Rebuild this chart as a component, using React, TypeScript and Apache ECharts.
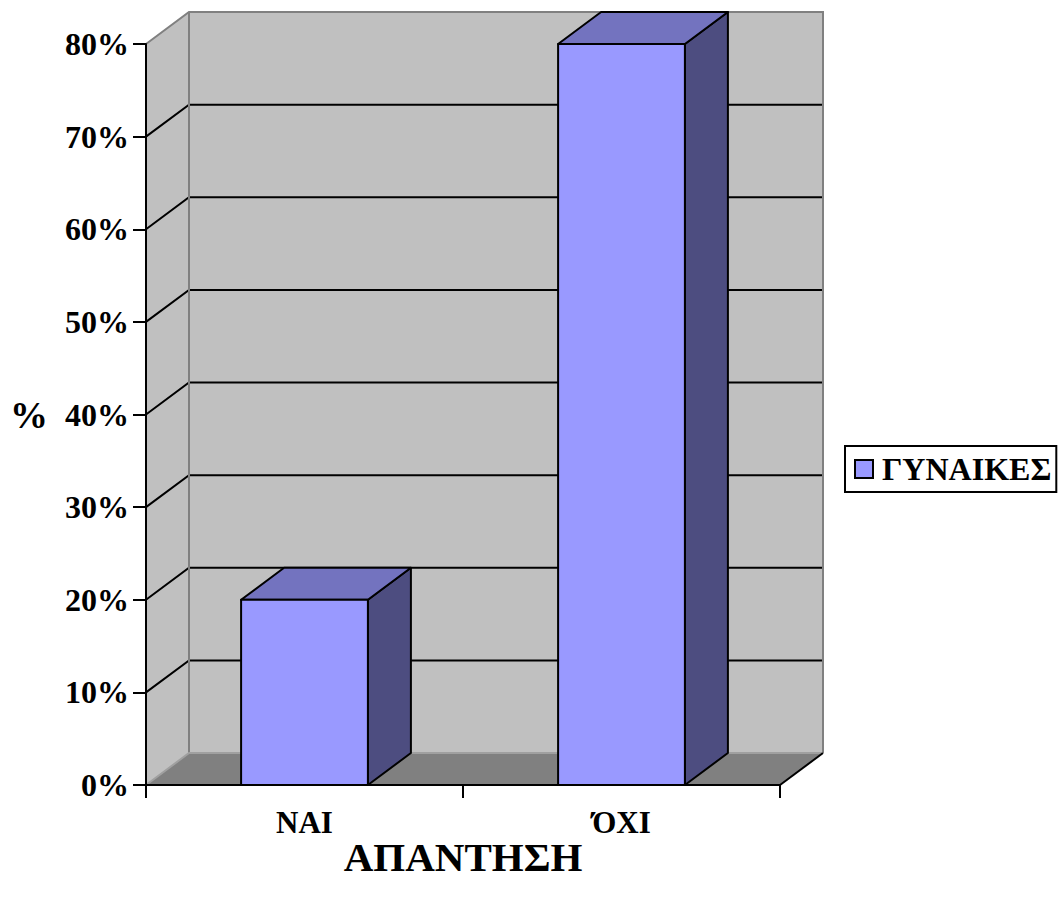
import React, { useEffect, useRef } from 'react';
import * as echarts from 'echarts';

const categories = ['ΝΑΙ', 'ΌΧΙ'];
const values = [20, 80];
const seriesName = 'ΓΥΝΑΙΚΕΣ';
const yTicks = [0, 10, 20, 30, 40, 50, 60, 70, 80];
const xTitle = 'ΑΠΑΝΤΗΣΗ';
const yTitle = '%';

const FONT = '"Liberation Serif", "Times New Roman", serif';
const DX = 43;
const DY = -32;
const BAR_FRACTION = 0.4;

export default function App() {
  const ref = useRef<HTMLDivElement>(null);

  useEffect(() => {
    if (!ref.current) return;
    const chart = echarts.init(ref.current, null, { renderer: 'svg' });
    const yMin = yTicks[0];
    const yMax = yTicks[yTicks.length - 1];

    const option: any = {
      animation: false,
      backgroundColor: '#ffffff',
      grid: { left: 146, top: 44, width: 634, height: 741, containLabel: false },
      legend: {
        data: [seriesName],
        left: 845,
        top: 446,
        orient: 'vertical',
        padding: [7, 5, 7, 9],
        borderColor: '#000',
        borderWidth: 2,
        backgroundColor: '#fff',
        itemWidth: 18,
        itemHeight: 18,
        icon: 'rect',
        selectedMode: false,
        textStyle: {
          fontFamily: FONT,
          fontWeight: 'bold',
          fontSize: 32,
          color: '#000',
          padding: [0, 0, 0, 4],
        },
      },
      xAxis: {
        type: 'category',
        data: categories,
        z: 10,
        boundaryGap: true,
        name: xTitle,
        nameLocation: 'middle',
        nameGap: 51,
        nameMoveOverlap: false,
        nameTextStyle: { fontFamily: FONT, fontWeight: 'bold', fontSize: 41, color: '#000', verticalAlign: 'top' },
        axisLine: { show: true, lineStyle: { color: '#000', width: 2 } },
        axisTick: { show: true, length: 13, lineStyle: { color: '#000', width: 2 } },
        axisLabel: { fontFamily: FONT, fontWeight: 'bold', fontSize: 31, color: '#000', margin: 22 },
        splitLine: { show: false },
      },
      yAxis: {
        type: 'value',
        min: yMin,
        max: yMax,
        interval: 10,
        z: 10,
        name: yTitle,
        nameLocation: 'middle',
        nameRotate: 0,
        nameGap: 98,
        nameMoveOverlap: false,
        nameTextStyle: { fontFamily: FONT, fontWeight: 'bold', fontSize: 38, color: '#000' },
        axisLine: { show: true, lineStyle: { color: '#000', width: 2 } },
        axisTick: { show: true, length: 13, lineStyle: { color: '#000', width: 2 } },
        axisLabel: { fontFamily: FONT, fontWeight: 'bold', fontSize: 32, color: '#000', margin: 17, formatter: '{value}%' },
        splitLine: { show: false },
      },
      series: [
        {
          type: 'custom',
          name: 'walls',
          silent: true,
          z: 1,
          data: [[0, yMin]],
          encode: { x: 0, y: 1 },
          renderItem: (params: any, api: any) => {
            const bw = api.size([1, 0])[0];
            const L = api.coord([0, yMin])[0] - bw / 2;
            const R = api.coord([categories.length - 1, yMin])[0] + bw / 2;
            const y0 = api.coord([0, yMin])[1];
            const yT = api.coord([0, yMax])[1];
            const children: any[] = [];
            children.push({
              type: 'polygon',
              shape: { points: [[L + DX, yT + DY], [R + DX, yT + DY], [R + DX, y0 + DY], [L + DX, y0 + DY]] },
              style: { fill: '#C0C0C0', stroke: null },
            });
            children.push({
              type: 'polygon',
              shape: { points: [[L, y0], [L, yT], [L + DX, yT + DY], [L + DX, y0 + DY]] },
              style: { fill: '#C0C0C0', stroke: null },
            });
            children.push({
              type: 'polygon',
              shape: { points: [[L, y0], [L + DX, y0 + DY], [R + DX, y0 + DY], [R, y0]] },
              style: { fill: '#808080', stroke: null },
            });
            yTicks.slice(1, -1).forEach((v) => {
              const y = api.coord([0, v])[1];
              children.push({
                type: 'polyline',
                shape: { points: [[L, y], [L + DX, y + DY], [R + DX, y + DY]] },
                style: { stroke: '#000', lineWidth: 2, fill: null },
              });
            });
            children.push({
              type: 'polyline',
              shape: { points: [[L, yT], [L + DX, yT + DY], [R + DX, yT + DY], [R + DX, y0 + DY]] },
              style: { stroke: '#808080', lineWidth: 2, fill: null },
            });
            children.push({
              type: 'line',
              shape: { x1: L + DX, y1: yT + DY, x2: L + DX, y2: y0 + DY },
              style: { stroke: '#808080', lineWidth: 2 },
            });
            children.push({
              type: 'polyline',
              shape: { points: [[L, y0], [L + DX, y0 + DY], [R + DX, y0 + DY]] },
              style: { stroke: '#A0A0A0', lineWidth: 2, fill: null },
            });
            children.push({
              type: 'line',
              shape: { x1: R, y1: y0, x2: R + DX, y2: y0 + DY },
              style: { stroke: '#000', lineWidth: 2 },
            });
            return { type: 'group', children };
          },
        },
        {
          type: 'custom',
          name: seriesName,
          z: 5,
          itemStyle: { color: '#9999FF', borderColor: '#000', borderWidth: 1.5 },
          data: values.map((v, i) => [i, v]),
          encode: { x: 0, y: 1 },
          renderItem: (params: any, api: any) => {
            const i = api.value(0);
            const v = api.value(1);
            const bw = api.size([1, 0])[0];
            const w = bw * BAR_FRACTION;
            const p = api.coord([i, v]);
            const y0 = api.coord([i, yMin])[1];
            const xl = p[0] - w / 2;
            const xr = p[0] + w / 2;
            const yv = p[1];
            const line = { stroke: '#000', lineWidth: 2, lineJoin: 'round' };
            return {
              type: 'group',
              children: [
                {
                  type: 'polygon',
                  shape: { points: [[xr, yv], [xr + DX, yv + DY], [xr + DX, y0 + DY], [xr, y0]] },
                  style: { fill: '#4D4D80', ...line },
                },
                {
                  type: 'polygon',
                  shape: { points: [[xl, yv], [xl + DX, yv + DY], [xr + DX, yv + DY], [xr, yv]] },
                  style: { fill: '#7373BF', ...line },
                },
                {
                  type: 'rect',
                  shape: { x: xl, y: yv, width: w, height: y0 - yv },
                  style: { fill: '#9999FF', ...line },
                },
              ],
            };
          },
        },
      ],
    };

    chart.setOption(option);
    return () => chart.dispose();
  }, []);

  return (
    <div
      ref={ref}
      style={{ position: 'fixed', left: 0, top: 0, width: 1061, height: 900, background: '#fff' }}
    />
  );
}
